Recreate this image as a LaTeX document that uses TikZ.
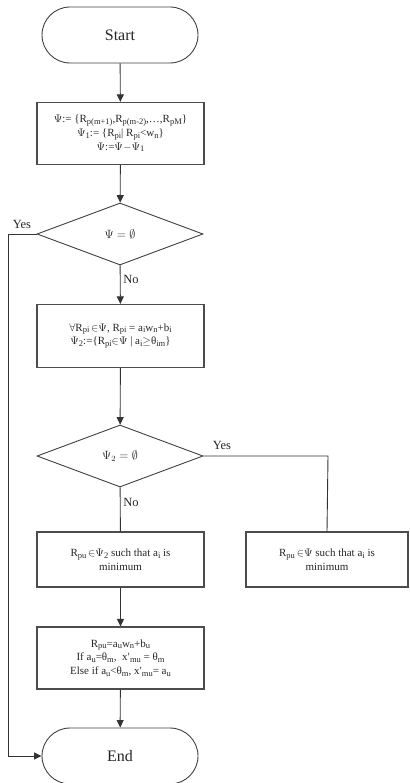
\documentclass[tikz,border=0pt]{standalone}
\usepackage{fontspec}
\setmainfont{Liberation Serif}
\usepackage{amsmath,amssymb}
\usetikzlibrary{shapes.geometric,arrows.meta}
\newcommand{\sbx}[1]{\raisebox{-0.35ex}{\fontsize{8.5}{9}\selectfont #1}}
\begin{document}
\begin{tikzpicture}[x=1pt,y=-1pt,
  line width=0.9pt,
  every node/.style={text=black!85},
  term/.style={draw=black!75,rectangle,rounded corners=28pt,minimum width=156pt,minimum height=56pt,font=\fontsize{16}{18}\selectfont},
  procbox/.style={draw=black!70,line width=1.1pt,rectangle,minimum width=167pt,align=center,font=\fontsize{11}{13.8}\selectfont,inner sep=2pt},
  decis/.style={draw=black!75,diamond,minimum width=166pt,minimum height=62pt,inner sep=0pt,font=\fontsize{11.5}{13}\selectfont},
  lbl/.style={font=\fontsize{12.5}{14}\selectfont,inner sep=0pt},
  conn/.style={draw=black!80},
  arr/.style={conn,-{Triangle[width=7pt,length=7.5pt]}}
]
\useasboundingbox (0,0) rectangle (409,783);
\node[term] (start) at (120,35) {Start};
\node[procbox,minimum height=62pt] (b1) at (120.5,133.5) {%
  $\Psi$:= \{R\sbx{p(m+1)},R\sbx{p(m-2)},\ldots,R\sbx{pM}\}\\
  $\Psi$\sbx{1}:= \{R\sbx{pi}| R\sbx{pi}<w\sbx{n}\}\\
  $\Psi$:=$\Psi$$-$$\Psi$\sbx{1}};
\node[decis] (d1) at (120,234) {$\Psi=\emptyset$};
\node[procbox,minimum height=63pt] (b2) at (120.5,336) {%
  $\forall$R\sbx{pi}\,$\in$$\Psi$, R\sbx{pi} = a\sbx{i}w\sbx{n}+b\sbx{i}\\
  $\Psi$\sbx{2}:=\{R\sbx{pi}$\in$$\Psi$ | a\sbx{i}$\geq$θ\sbx{im}\}};
\node[decis] (d2) at (120,456) {$\Psi_2=\emptyset$};
\node[procbox,minimum height=55pt] (b4) at (120.5,559.5) {%
  R\sbx{pu}\,$\in$$\Psi$\sbx{2} such that a\sbx{i} is\\ minimum};
\node[procbox,minimum width=162pt,minimum height=55pt] (b3) at (327,559.5) {%
  R\sbx{pu}\,$\in$$\Psi$ such that a\sbx{i} is\\ minimum};
\node[procbox,minimum height=62pt] (b5) at (120.5,658) {%
  R\sbx{pu}=a\sbx{u}w\sbx{n}+b\sbx{u}\\
  If a\sbx{u}=θ\sbx{m},\ \ x′\sbx{mu} = θ\sbx{m}\\
  Else if a\sbx{u}<θ\sbx{m}, x′\sbx{mu}= a\sbx{u}};
\node[term] (end) at (120,756) {End};
\coordinate (c1) at (8,234);
\coordinate (c2) at (8,756);
\coordinate (c3) at (328,456);
\node[lbl] (yes1) at (22,224) {Yes};
\node[lbl] (no1) at (131,279) {No};
\node[lbl] (yes2) at (222,445) {Yes};
\node[lbl] (no2) at (131,502) {No};
\draw[arr] (start) -- (b1);
\draw[arr] (b1) -- (d1);
\draw[arr] (d1) -- (b2);
\draw[arr] (b2) -- (d2);
\draw[conn] (d2) -- (b4);
\draw[conn] (d2.east) -- (c3) -- (b3.north);
\draw[arr] (b4) -- (b5);
\draw[arr] (b5) -- (end);
\draw[arr] (d1.west) -- (c1) -- (c2) -- (end.west);
\end{tikzpicture}
\end{document}
